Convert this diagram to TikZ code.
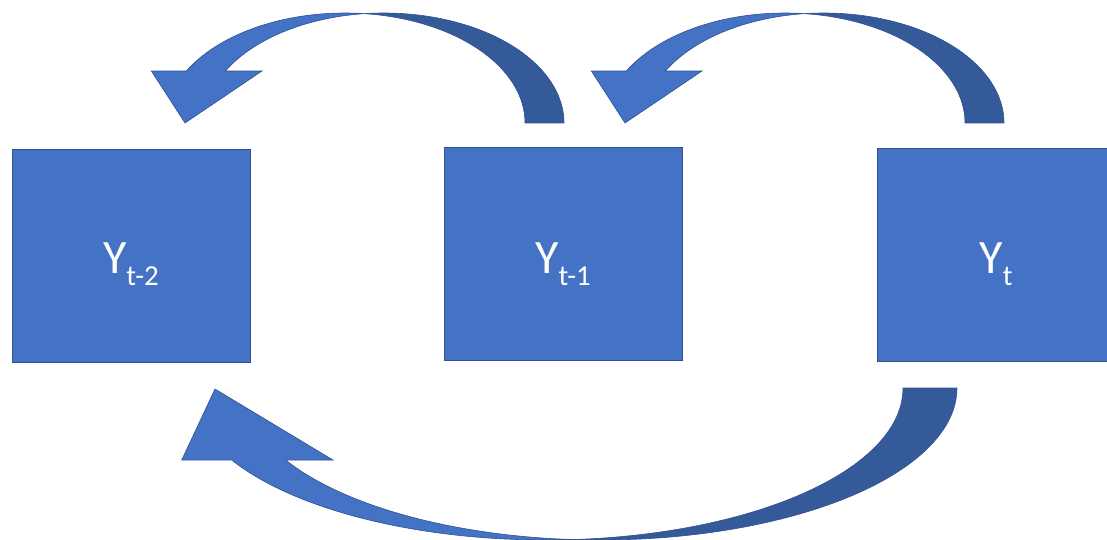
\documentclass[tikz,border=0pt]{standalone}
\usepackage{fontspec}
\setmainfont{Carlito}
\definecolor{boxfill}{HTML}{4472C4}
\definecolor{boxedge}{HTML}{2F528F}
\definecolor{backband}{HTML}{345A9A}
\newcommand{\ylabel}[1]{{\fontsize{48}{48}\selectfont Y\raisebox{-12pt}{\fontsize{29}{29}\selectfont #1}}}
\begin{document}
\begin{tikzpicture}[x=1pt,y=-1pt,
  box/.style={draw=boxedge, fill=boxfill, line width=0.9pt, minimum width=238pt, minimum height=213pt, inner sep=0pt},
  lbl/.style={text=white, anchor=base, inner sep=0pt},
  front/.style={fill=boxfill, draw=boxedge, line width=0.6pt},
  back/.style={fill=backband, draw=boxedge, line width=0.6pt}]
\useasboundingbox (0,0) rectangle (1107,540);
\clip (0,0) rectangle (1107,540);
% boxes
\node[box] (b1) at (131,255.5) {};
\node[box] (b2) at (563,254) {};
\node[box] (b3) at (996,255) {};
\node[lbl] (l1) at (131,273) {\ylabel{t-2}};
\node[lbl] (l2) at (563,273) {\ylabel{t-1}};
\node[lbl] (l3) at (996,273) {\ylabel{t}};
% top curved arrows (Y_{t-1} -> Y_{t-2}, Y_t -> Y_{t-1})
\foreach \dx in {0,440}{
\begin{scope}[shift={(\dx,0)}]
  \path[back] (384,123) ++(266.2:180 and 110)
    arc[start angle=266.2, end angle=360, x radius=180, y radius=110]
    -- (525,123)
    arc[start angle=0, end angle=-83.8, x radius=180, y radius=110] -- cycle;
  \path[front] (345,123) ++(-83.8:180 and 110)
    arc[start angle=-83.8, end angle=-151.8, x radius=180, y radius=110]
    -- ++(-35,0) -- (185,123) -- (262,71)
    -- ([shift={(384,123)}]208.2:180 and 110)
    arc[start angle=208.2, end angle=266.2, x radius=180, y radius=110] -- cycle;
\end{scope}}
% bottom curved arrow (Y_t -> Y_{t-2})
\path[back] (600,388) ++(94.3:357 and 152)
  arc[start angle=94.3, end angle=0, x radius=357, y radius=152]
  -- (903,388)
  arc[start angle=0, end angle=85.7, x radius=357, y radius=152] -- cycle;
\path[front] (546,388) ++(85.7:357 and 152)
  arc[start angle=85.7, end angle=151.7, x radius=357, y radius=152]
  -- ++(-50,0) -- (215,389) -- (333,460)
  -- ([shift={(600,388)}]151.7:357 and 152)
  arc[start angle=151.7, end angle=94.3, x radius=357, y radius=152] -- cycle;
\end{tikzpicture}
\end{document}
